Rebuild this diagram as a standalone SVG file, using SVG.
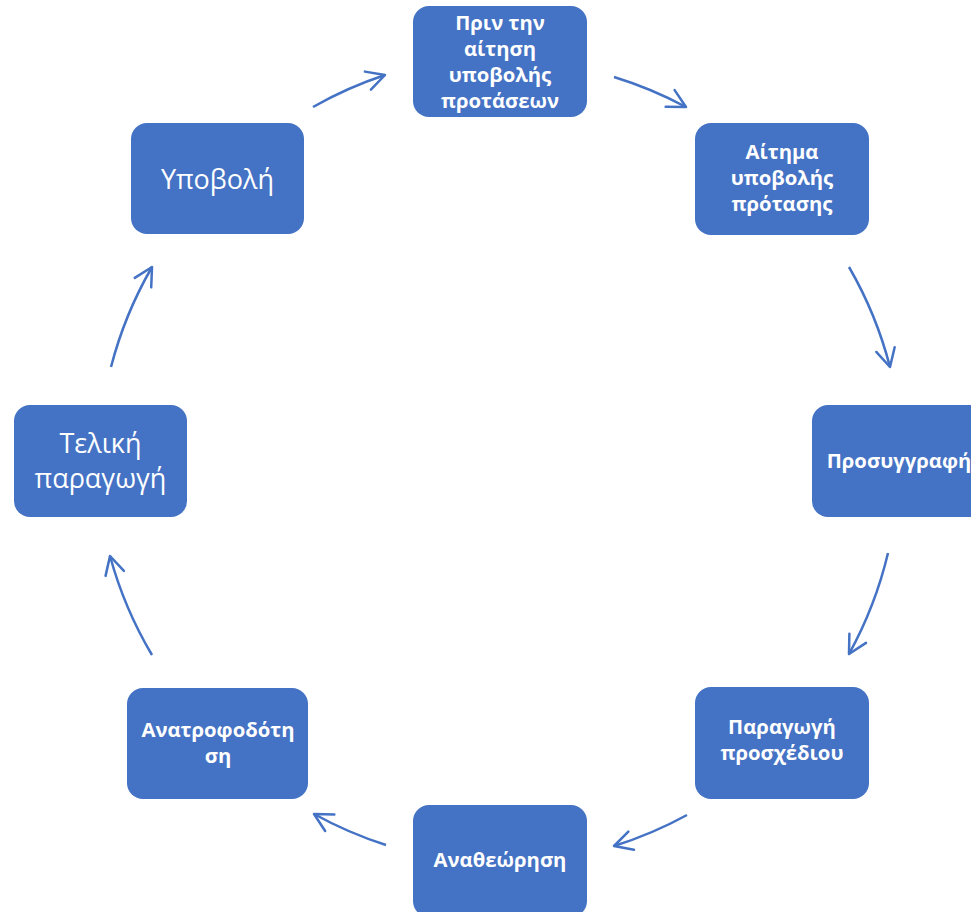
<svg xmlns="http://www.w3.org/2000/svg" width="971" height="912" viewBox="0 0 971 912">
<style>
.box{fill:#4472C4;}
.b{font-family:"Open Sans","Noto Sans","DejaVu Sans",sans-serif;font-weight:bold;font-size:20.3px;fill:#fff;text-anchor:middle;}
.r{font-family:"Open Sans","Noto Sans","DejaVu Sans",sans-serif;font-size:27px;fill:#fff;text-anchor:middle;}
.c{fill:none;stroke:#4472C4;stroke-width:2.5;marker-end:url(#ah);}
</style>
<defs>
<marker id="ah" markerUnits="userSpaceOnUse" markerWidth="30" markerHeight="30" refX="0" refY="0" viewBox="-22 -15 30 30" orient="auto" overflow="visible">
<path d="M -18 -9.5 L 0 0 L -18 9.5" fill="none" stroke="#4472C4" stroke-width="2.5" stroke-linecap="round" stroke-linejoin="round"/>
</marker>
</defs>
<rect width="971" height="912" fill="#fff"/>
<g id="connectors">
<path class="c" d="M 313 107 A 400 400 0 0 1 385 75"/>
<path class="c" d="M 614 77 A 400 400 0 0 1 686 107"/>
<path class="c" d="M 849 267 A 400 400 0 0 1 890 367"/>
<path class="c" d="M 888 553 A 400 400 0 0 1 849 654"/>
<path class="c" d="M 687 815 A 400 400 0 0 1 614 846"/>
<path class="c" d="M 386 845 A 400 400 0 0 1 314 814"/>
<path class="c" d="M 152 655 A 400 400 0 0 1 110 556"/>
<path class="c" d="M 111 367 A 400 400 0 0 1 152 267"/>
</g>
<g id="n1">
<rect class="box" x="413" y="6" width="174" height="111" rx="16"/>
<text class="b" x="500" y="30">Πριν την</text>
<text class="b" x="500" y="56">αίτηση</text>
<text class="b" x="500" y="82">υποβολής</text>
<text class="b" x="500" y="108">προτάσεων</text>
</g>
<g id="n2">
<rect class="box" x="695" y="123" width="174" height="112" rx="16"/>
<text class="b" x="782" y="159">Αίτημα</text>
<text class="b" x="782" y="185">υποβολής</text>
<text class="b" x="782" y="211">πρότασης</text>
</g>
<g id="n3">
<rect class="box" x="812" y="405" width="174" height="112" rx="16"/>
<text class="b" x="899" y="468">Προσυγγραφή</text>
</g>
<g id="n4">
<rect class="box" x="695" y="687" width="174" height="112" rx="16"/>
<text class="b" x="782" y="734">Παραγωγή</text>
<text class="b" x="782" y="760">προσχέδιου</text>
</g>
<g id="n5">
<rect class="box" x="413" y="805" width="174" height="112" rx="16"/>
<text class="b" x="500" y="867">Αναθεώρηση</text>
</g>
<g id="n6">
<rect class="box" x="127" y="688" width="181" height="111" rx="16"/>
<text class="b" x="218" y="737">Ανατροφοδότη</text>
<text class="b" x="218" y="763">ση</text>
</g>
<g id="n7">
<rect class="box" x="14" y="405" width="173" height="112" rx="16"/>
<text class="r" x="100.5" y="453">Τελική</text>
<text class="r" x="100.5" y="488">παραγωγή</text>
</g>
<g id="n8">
<rect class="box" x="131" y="123" width="173" height="111" rx="16"/>
<text class="r" x="217.5" y="189">Υποβολή</text>
</g>
</svg>
